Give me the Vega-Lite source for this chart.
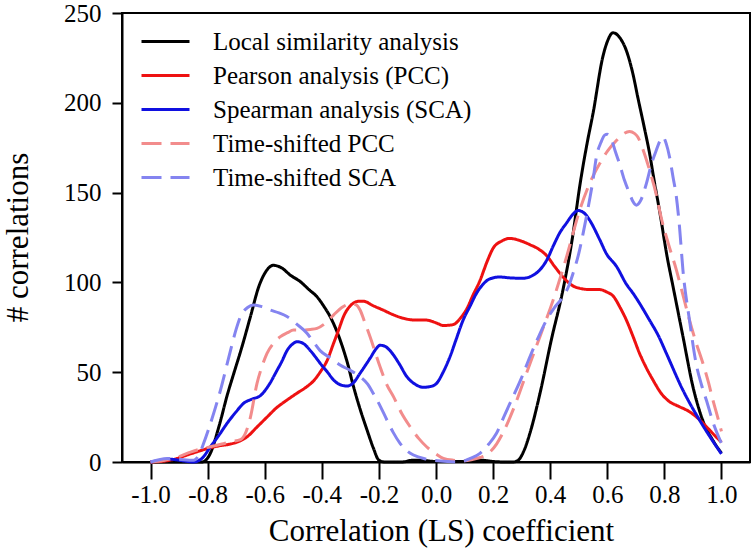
{
  "$schema": "https://vega.github.io/schema/vega-lite/v6.json",
  "width": 628,
  "height": 449,
  "autosize": {"type": "none"},
  "padding": {"left": 122, "top": 13, "right": 6, "bottom": 98},
  "background": "white",
  "data": {"values": [
    {"s":"a","x":-1.0,"y":0},{"s":"a","x":-0.9,"y":0},{"s":"a","x":-0.82,"y":0},{"s":"a","x":-0.79,"y":5},{"s":"a","x":-0.76,"y":20},{"s":"a","x":-0.73,"y":38},{"s":"a","x":-0.709,"y":49},{"s":"a","x":-0.68,"y":64},{"s":"a","x":-0.65,"y":81},{"s":"a","x":-0.62,"y":98},{"s":"a","x":-0.6,"y":105},{"s":"a","x":-0.57,"y":109.5},{"s":"a","x":-0.54,"y":108},{"s":"a","x":-0.51,"y":104},{"s":"a","x":-0.476,"y":100.5},{"s":"a","x":-0.445,"y":96},{"s":"a","x":-0.417,"y":92},{"s":"a","x":-0.39,"y":86},{"s":"a","x":-0.371,"y":81},{"s":"a","x":-0.336,"y":68},{"s":"a","x":-0.31,"y":55},{"s":"a","x":-0.289,"y":42},{"s":"a","x":-0.265,"y":29},{"s":"a","x":-0.242,"y":18},{"s":"a","x":-0.22,"y":8},{"s":"a","x":-0.2,"y":1},{"s":"a","x":-0.18,"y":0},{"s":"a","x":-0.12,"y":0},{"s":"a","x":-0.08,"y":1},{"s":"a","x":-0.04,"y":0.8},{"s":"a","x":0.0,"y":0.3},{"s":"a","x":0.1,"y":0.3},{"s":"a","x":0.16,"y":1},{"s":"a","x":0.2,"y":0.3},{"s":"a","x":0.25,"y":0},{"s":"a","x":0.27,"y":0},{"s":"a","x":0.288,"y":1},{"s":"a","x":0.31,"y":7},{"s":"a","x":0.329,"y":16},{"s":"a","x":0.364,"y":38},{"s":"a","x":0.404,"y":68},{"s":"a","x":0.445,"y":96},{"s":"a","x":0.48,"y":127},{"s":"a","x":0.503,"y":153},{"s":"a","x":0.53,"y":178},{"s":"a","x":0.55,"y":194},{"s":"a","x":0.585,"y":226},{"s":"a","x":0.6,"y":234},{"s":"a","x":0.62,"y":239},{"s":"a","x":0.645,"y":236},{"s":"a","x":0.667,"y":229},{"s":"a","x":0.69,"y":216},{"s":"a","x":0.707,"y":203},{"s":"a","x":0.73,"y":186},{"s":"a","x":0.748,"y":172},{"s":"a","x":0.765,"y":156},{"s":"a","x":0.783,"y":140},{"s":"a","x":0.81,"y":114},{"s":"a","x":0.83,"y":98},{"s":"a","x":0.865,"y":70},{"s":"a","x":0.9,"y":42},{"s":"a","x":0.935,"y":23},{"s":"a","x":0.97,"y":12},{"s":"a","x":1.0,"y":5},

    {"s":"b","x":-1.0,"y":0},{"s":"b","x":-0.95,"y":0.5},{"s":"b","x":-0.907,"y":2},{"s":"b","x":-0.87,"y":4},{"s":"b","x":-0.837,"y":5.7},{"s":"b","x":-0.8,"y":7.5},{"s":"b","x":-0.76,"y":9},{"s":"b","x":-0.72,"y":10},{"s":"b","x":-0.69,"y":11.5},{"s":"b","x":-0.662,"y":14},{"s":"b","x":-0.63,"y":19},{"s":"b","x":-0.592,"y":25},{"s":"b","x":-0.56,"y":30},{"s":"b","x":-0.522,"y":34.5},{"s":"b","x":-0.49,"y":38},{"s":"b","x":-0.452,"y":42},{"s":"b","x":-0.43,"y":45},{"s":"b","x":-0.406,"y":50},{"s":"b","x":-0.38,"y":57},{"s":"b","x":-0.359,"y":66},{"s":"b","x":-0.34,"y":74},{"s":"b","x":-0.324,"y":81},{"s":"b","x":-0.3,"y":87},{"s":"b","x":-0.27,"y":89.5},{"s":"b","x":-0.254,"y":89.5},{"s":"b","x":-0.22,"y":87},{"s":"b","x":-0.184,"y":84.5},{"s":"b","x":-0.15,"y":82},{"s":"b","x":-0.114,"y":80},{"s":"b","x":-0.07,"y":79},{"s":"b","x":-0.033,"y":79},{"s":"b","x":0.0,"y":77.5},{"s":"b","x":0.026,"y":76},{"s":"b","x":0.06,"y":76.5},{"s":"b","x":0.085,"y":80},{"s":"b","x":0.107,"y":85},{"s":"b","x":0.13,"y":93},{"s":"b","x":0.154,"y":101},{"s":"b","x":0.18,"y":112},{"s":"b","x":0.2,"y":119},{"s":"b","x":0.23,"y":123},{"s":"b","x":0.259,"y":124.5},{"s":"b","x":0.29,"y":123.5},{"s":"b","x":0.329,"y":121},{"s":"b","x":0.36,"y":118.5},{"s":"b","x":0.387,"y":115},{"s":"b","x":0.415,"y":109},{"s":"b","x":0.445,"y":103},{"s":"b","x":0.475,"y":98.5},{"s":"b","x":0.503,"y":96.7},{"s":"b","x":0.54,"y":96},{"s":"b","x":0.573,"y":96},{"s":"b","x":0.6,"y":94.5},{"s":"b","x":0.62,"y":92.5},{"s":"b","x":0.645,"y":86},{"s":"b","x":0.667,"y":79},{"s":"b","x":0.69,"y":70},{"s":"b","x":0.713,"y":60.5},{"s":"b","x":0.735,"y":53},{"s":"b","x":0.76,"y":45.7},{"s":"b","x":0.79,"y":38},{"s":"b","x":0.818,"y":33.6},{"s":"b","x":0.85,"y":31},{"s":"b","x":0.888,"y":28},{"s":"b","x":0.92,"y":24},{"s":"b","x":0.947,"y":19.7},{"s":"b","x":0.975,"y":15},{"s":"b","x":1.0,"y":11},

    {"s":"c","x":-1.0,"y":0},{"s":"c","x":-0.96,"y":1},{"s":"c","x":-0.93,"y":1.5},{"s":"c","x":-0.88,"y":0.5},{"s":"c","x":-0.849,"y":0},{"s":"c","x":-0.82,"y":2},{"s":"c","x":-0.79,"y":8.5},{"s":"c","x":-0.76,"y":15},{"s":"c","x":-0.732,"y":21.5},{"s":"c","x":-0.7,"y":28},{"s":"c","x":-0.674,"y":32.7},{"s":"c","x":-0.645,"y":35},{"s":"c","x":-0.615,"y":37},{"s":"c","x":-0.585,"y":43},{"s":"c","x":-0.557,"y":51},{"s":"c","x":-0.54,"y":56},{"s":"c","x":-0.522,"y":62},{"s":"c","x":-0.5,"y":66},{"s":"c","x":-0.487,"y":67},{"s":"c","x":-0.465,"y":66},{"s":"c","x":-0.44,"y":62},{"s":"c","x":-0.42,"y":58},{"s":"c","x":-0.406,"y":55},{"s":"c","x":-0.38,"y":50},{"s":"c","x":-0.359,"y":45.7},{"s":"c","x":-0.335,"y":43},{"s":"c","x":-0.312,"y":42.3},{"s":"c","x":-0.29,"y":44},{"s":"c","x":-0.266,"y":49.4},{"s":"c","x":-0.23,"y":58},{"s":"c","x":-0.21,"y":63},{"s":"c","x":-0.196,"y":65},{"s":"c","x":-0.18,"y":64.5},{"s":"c","x":-0.161,"y":62},{"s":"c","x":-0.13,"y":55},{"s":"c","x":-0.102,"y":47.5},{"s":"c","x":-0.07,"y":43},{"s":"c","x":-0.044,"y":41.6},{"s":"c","x":-0.02,"y":42},{"s":"c","x":0.002,"y":43.8},{"s":"c","x":0.025,"y":50},{"s":"c","x":0.049,"y":58.6},{"s":"c","x":0.07,"y":68},{"s":"c","x":0.095,"y":79},{"s":"c","x":0.12,"y":87},{"s":"c","x":0.142,"y":94},{"s":"c","x":0.165,"y":99},{"s":"c","x":0.189,"y":102},{"s":"c","x":0.224,"y":103},{"s":"c","x":0.26,"y":102.5},{"s":"c","x":0.305,"y":102.3},{"s":"c","x":0.34,"y":104},{"s":"c","x":0.364,"y":107},{"s":"c","x":0.39,"y":113},{"s":"c","x":0.41,"y":120},{"s":"c","x":0.435,"y":128},{"s":"c","x":0.457,"y":133},{"s":"c","x":0.48,"y":138},{"s":"c","x":0.498,"y":140},{"s":"c","x":0.52,"y":138.5},{"s":"c","x":0.538,"y":134.7},{"s":"c","x":0.573,"y":124},{"s":"c","x":0.597,"y":116},{"s":"c","x":0.632,"y":109},{"s":"c","x":0.667,"y":99},{"s":"c","x":0.69,"y":94},{"s":"c","x":0.748,"y":79},{"s":"c","x":0.78,"y":70},{"s":"c","x":0.807,"y":60.5},{"s":"c","x":0.865,"y":40},{"s":"c","x":0.923,"y":23.4},{"s":"c","x":0.96,"y":14},{"s":"c","x":1.0,"y":4.5},

    {"s":"d","x":-1.0,"y":0},{"s":"d","x":-0.95,"y":1},{"s":"d","x":-0.9,"y":3},{"s":"d","x":-0.86,"y":5.5},{"s":"d","x":-0.837,"y":6.7},{"s":"d","x":-0.79,"y":8.5},{"s":"d","x":-0.75,"y":10},{"s":"d","x":-0.72,"y":11.3},{"s":"d","x":-0.685,"y":12.5},{"s":"d","x":-0.665,"y":17},{"s":"d","x":-0.65,"y":25},{"s":"d","x":-0.627,"y":43.8},{"s":"d","x":-0.61,"y":53},{"s":"d","x":-0.592,"y":60.5},{"s":"d","x":-0.57,"y":66},{"s":"d","x":-0.545,"y":69.8},{"s":"d","x":-0.52,"y":72},{"s":"d","x":-0.499,"y":73.5},{"s":"d","x":-0.47,"y":73.5},{"s":"d","x":-0.44,"y":73.8},{"s":"d","x":-0.417,"y":74.4},{"s":"d","x":-0.39,"y":77},{"s":"d","x":-0.359,"y":81.8},{"s":"d","x":-0.33,"y":86},{"s":"d","x":-0.3,"y":88},{"s":"d","x":-0.28,"y":87.5},{"s":"d","x":-0.266,"y":84.6},{"s":"d","x":-0.25,"y":78},{"s":"d","x":-0.231,"y":69.8},{"s":"d","x":-0.196,"y":53},{"s":"d","x":-0.172,"y":43},{"s":"d","x":-0.149,"y":36.4},{"s":"d","x":-0.12,"y":27},{"s":"d","x":-0.091,"y":19.7},{"s":"d","x":-0.06,"y":13},{"s":"d","x":-0.033,"y":8.5},{"s":"d","x":0.0,"y":4.5},{"s":"d","x":0.026,"y":2},{"s":"d","x":0.06,"y":1},{"s":"d","x":0.095,"y":0.7},{"s":"d","x":0.13,"y":1.5},{"s":"d","x":0.155,"y":2.5},{"s":"d","x":0.177,"y":4},{"s":"d","x":0.212,"y":10},{"s":"d","x":0.24,"y":18},{"s":"d","x":0.27,"y":29},{"s":"d","x":0.317,"y":49.4},{"s":"d","x":0.364,"y":69.8},{"s":"d","x":0.41,"y":90},{"s":"d","x":0.457,"y":114},{"s":"d","x":0.503,"y":140},{"s":"d","x":0.538,"y":155},{"s":"d","x":0.573,"y":166},{"s":"d","x":0.6,"y":173},{"s":"d","x":0.632,"y":179},{"s":"d","x":0.655,"y":182.5},{"s":"d","x":0.678,"y":184},{"s":"d","x":0.695,"y":183},{"s":"d","x":0.707,"y":181},{"s":"d","x":0.725,"y":174},{"s":"d","x":0.748,"y":162.6},{"s":"d","x":0.77,"y":150},{"s":"d","x":0.789,"y":136},{"s":"d","x":0.815,"y":121},{"s":"d","x":0.842,"y":107},{"s":"d","x":0.865,"y":93},{"s":"d","x":0.888,"y":79},{"s":"d","x":0.91,"y":67},{"s":"d","x":0.935,"y":55},{"s":"d","x":0.955,"y":44},{"s":"d","x":0.97,"y":34.5},{"s":"d","x":0.985,"y":26},{"s":"d","x":1.0,"y":17},

    {"s":"e","x":-1.0,"y":0},{"s":"e","x":-0.942,"y":2},{"s":"e","x":-0.9,"y":1.5},{"s":"e","x":-0.849,"y":1},{"s":"e","x":-0.83,"y":4},{"s":"e","x":-0.814,"y":10.4},{"s":"e","x":-0.79,"y":21.5},{"s":"e","x":-0.755,"y":40},{"s":"e","x":-0.72,"y":62},{"s":"e","x":-0.7,"y":74},{"s":"e","x":-0.685,"y":81},{"s":"e","x":-0.66,"y":86},{"s":"e","x":-0.639,"y":87.4},{"s":"e","x":-0.61,"y":86.5},{"s":"e","x":-0.58,"y":84.6},{"s":"e","x":-0.55,"y":83},{"s":"e","x":-0.522,"y":81},{"s":"e","x":-0.49,"y":77},{"s":"e","x":-0.452,"y":71.7},{"s":"e","x":-0.43,"y":67},{"s":"e","x":-0.406,"y":62},{"s":"e","x":-0.37,"y":58},{"s":"e","x":-0.336,"y":54},{"s":"e","x":-0.3,"y":51},{"s":"e","x":-0.266,"y":47.5},{"s":"e","x":-0.24,"y":43.5},{"s":"e","x":-0.219,"y":38},{"s":"e","x":-0.195,"y":31},{"s":"e","x":-0.172,"y":23.4},{"s":"e","x":-0.15,"y":16.5},{"s":"e","x":-0.126,"y":10.4},{"s":"e","x":-0.1,"y":6},{"s":"e","x":-0.079,"y":3.9},{"s":"e","x":-0.04,"y":1.8},{"s":"e","x":-0.009,"y":1},{"s":"e","x":0.04,"y":0.3},{"s":"e","x":0.084,"y":0},{"s":"e","x":0.12,"y":2},{"s":"e","x":0.154,"y":4.8},{"s":"e","x":0.185,"y":10},{"s":"e","x":0.212,"y":16},{"s":"e","x":0.24,"y":26},{"s":"e","x":0.27,"y":36.4},{"s":"e","x":0.3,"y":47},{"s":"e","x":0.329,"y":58.6},{"s":"e","x":0.36,"y":70},{"s":"e","x":0.387,"y":79},{"s":"e","x":0.415,"y":86},{"s":"e","x":0.445,"y":92},{"s":"e","x":0.465,"y":98},{"s":"e","x":0.48,"y":105},{"s":"e","x":0.5,"y":116},{"s":"e","x":0.515,"y":127},{"s":"e","x":0.538,"y":146},{"s":"e","x":0.55,"y":157},{"s":"e","x":0.562,"y":170},{"s":"e","x":0.578,"y":178},{"s":"e","x":0.591,"y":182},{"s":"e","x":0.6,"y":182.5},{"s":"e","x":0.614,"y":180},{"s":"e","x":0.628,"y":173},{"s":"e","x":0.643,"y":166},{"s":"e","x":0.66,"y":157},{"s":"e","x":0.678,"y":149.6},{"s":"e","x":0.69,"y":145},{"s":"e","x":0.702,"y":143},{"s":"e","x":0.715,"y":145},{"s":"e","x":0.737,"y":155},{"s":"e","x":0.755,"y":166},{"s":"e","x":0.772,"y":173.7},{"s":"e","x":0.785,"y":179},{"s":"e","x":0.795,"y":181},{"s":"e","x":0.807,"y":177},{"s":"e","x":0.818,"y":170},{"s":"e","x":0.83,"y":159},{"s":"e","x":0.842,"y":147.7},{"s":"e","x":0.853,"y":131},{"s":"e","x":0.865,"y":107},{"s":"e","x":0.888,"y":79},{"s":"e","x":0.911,"y":55},{"s":"e","x":0.93,"y":43},{"s":"e","x":0.947,"y":34.5},{"s":"e","x":0.975,"y":20},{"s":"e","x":1.0,"y":10.4}
  ]},
  "mark": {"type": "line", "strokeWidth": 3, "interpolate": "monotone", "strokeCap": "butt"},
  "encoding": {
    "x": {"field": "x", "type": "quantitative",
      "scale": {"domain": [-1.1, 1.1], "nice": false, "zero": false},
      "axis": {"title": "Correlation (LS) coefficient", "values": [-1, -0.8, -0.6, -0.4, -0.2, 0, 0.2, 0.4, 0.6, 0.8, 1],
        "labelExpr": "(datum.value < -0.001 ? '-' : '') + format(abs(datum.value), '.1f')",
        "tickSize": 17, "labelPadding": 3, "labelFlush": false, "labelOverlap": false,
        "titleX": 319, "titleY": 78, "titleBaseline": "alphabetic", "titleAnchor": "middle", "titleAlign": "center"}},
    "y": {"field": "y", "type": "quantitative",
      "scale": {"domain": [0, 250], "nice": false},
      "axis": {"title": "# correlations", "values": [0, 50, 100, 150, 200, 250],
        "tickSize": 10, "labelPadding": 11, "labelFlush": false, "labelOverlap": false,
        "titleX": -95, "titleY": 224, "titleBaseline": "alphabetic", "titleAngle": -90, "titleAlign": "center"}},
    "color": {"field": "s", "type": "nominal",
      "scale": {"domain": ["a", "b", "c", "d", "e"], "range": ["#000000", "#ee1111", "#1010e0", "#f28c8c", "#8484f0"]},
      "legend": {"orient": "none", "legendX": 31, "legendY": 16, "title": null, "padding": 0,
        "symbolType": "M-2.4,0L2.4,0", "symbolSize": 400, "symbolStrokeWidth": 3,
        "labelFont": "Liberation Serif, Times New Roman, DejaVu Serif, serif", "labelFontSize": 25, "labelColor": "black", "labelOffset": 35, "rowPadding": 8, "labelLimit": 500,
        "labelExpr": "datum.label == 'a' ? 'Local similarity analysis' : datum.label == 'b' ? 'Pearson analysis (PCC)' : datum.label == 'c' ? 'Spearman analysis (SCA)' : datum.label == 'd' ? 'Time-shifted PCC' : 'Time-shifted SCA'"}},
    "strokeDash": {"field": "s", "type": "nominal",
      "scale": {"domain": ["a", "b", "c", "d", "e"], "range": [[1, 0], [1, 0], [1, 0], [20, 9], [20, 9]]},
      "legend": {"orient": "none", "legendX": 31, "legendY": 16, "title": null, "padding": 0,
        "symbolType": "M-2.4,0L2.4,0", "symbolSize": 400, "symbolStrokeWidth": 3,
        "labelFont": "Liberation Serif, Times New Roman, DejaVu Serif, serif", "labelFontSize": 25, "labelColor": "black", "labelOffset": 35, "rowPadding": 8, "labelLimit": 500,
        "labelExpr": "datum.label == 'a' ? 'Local similarity analysis' : datum.label == 'b' ? 'Pearson analysis (PCC)' : datum.label == 'c' ? 'Spearman analysis (SCA)' : datum.label == 'd' ? 'Time-shifted PCC' : 'Time-shifted SCA'"}}
  },
  "config": {
    "font": "Liberation Serif, Times New Roman, DejaVu Serif, serif",
    "view": {"stroke": "black", "strokeWidth": 2},
    "legend": {"labelFont": "Liberation Serif, Times New Roman, DejaVu Serif, serif"},
    "axis": {"domainColor": "black", "domainWidth": 2, "tickColor": "black", "tickWidth": 2, "labelColor": "black",
      "labelFont": "Liberation Serif, Times New Roman, DejaVu Serif, serif", "labelFontSize": 25, "titleFont": "Liberation Serif, Times New Roman, DejaVu Serif, serif", "titleFontSize": 31,
      "titleFontWeight": "normal", "titleColor": "black", "grid": false}
  }
}
